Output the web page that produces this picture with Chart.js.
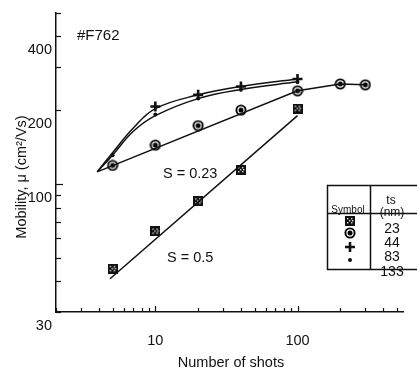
<!DOCTYPE html>
<html>
<head>
<meta charset="utf-8">
<script src="https://cdn.jsdelivr.net/npm/chart.js@4.4.1/dist/chart.umd.min.js"></script>
<style>
  html, body { margin: 0; padding: 0; background: #fff; }
  canvas { display: block; }
</style>
</head>
<body>
<canvas id="mobilityChart" width="417" height="372"></canvas>
<script>
// measured points, one list per film thickness (nm)
const shots23 = [5, 10, 20, 40, 100];
const mobility23 = [45, 64, 85, 114, 203];
const shots44 = [5, 10, 20, 40, 100, 200, 300];
const mobility44 = [119, 144, 173, 200, 240, 256, 254];
const shots83 = [10, 20, 40, 100];
const mobility83 = [207, 231, 250, 268];
const shots133 = [5, 10, 20, 40, 100];
const mobility133 = [131, 192, 223, 243, 261];

// guide lines drawn through the data
const fitShots05 = [4.8, 100];
const fitMobility05 = [41, 190];
const fitShots023 = [3.9, 100, 200, 300];
const fitMobility023 = [112, 240, 256, 254];
const curveShots83 = [3.9, 5, 7, 10, 20, 40, 100];
const curveMobility83 = [112, 134, 169, 203, 231, 250, 268];
const curveShots133 = [3.9, 5, 7, 10, 20, 40, 100];
const curveMobility133 = [112, 131, 164, 190, 223, 243, 261];

// axis ticks and which of them get a label
const xTicks = [2, 3, 4, 5, 6, 7, 8, 9, 10, 20, 30, 40, 50, 60, 70, 80, 90, 100, 200, 300, 400, 500];
const xLabels = [10, 100];
const yTicks = [30, 40, 50, 60, 70, 80, 90, 100, 200, 300, 400, 500];
const yLabels = [30, 100, 200, 400];

const legendThickness = ['23', '44', '83', '133'];

const FONT = '"Liberation Sans", Arial, Helvetica, sans-serif';
const INK = '#111';

const toPoints = (xs, ys) => xs.map((x, i) => ({ x, y: ys[i] }));

// speckled black square marker
function makeSquare() {
    const c = document.createElement('canvas');
    c.width = 10; c.height = 10;
    const g = c.getContext('2d');
    g.fillStyle = '#111';
    g.fillRect(0, 0, 10, 10);
    g.fillStyle = '#ddd';
    [[2, 2], [6, 2], [4, 4], [2, 6], [6, 6], [7, 4]].forEach(([px, py]) => g.fillRect(px, py, 1.4, 1.4));
    return c;
}

// ring with a filled centre
function makeBullseye() {
    const c = document.createElement('canvas');
    c.width = 12; c.height = 12;
    const g = c.getContext('2d');
    g.fillStyle = '#fff';
    g.strokeStyle = '#000';
    g.lineWidth = 1.9;
    g.beginPath(); g.arc(6, 6, 4.6, 0, Math.PI * 2); g.fill(); g.stroke();
    g.fillStyle = '#000';
    g.beginPath(); g.arc(6, 6, 2.5, 0, Math.PI * 2); g.fill();
    return c;
}

const squareImg = makeSquare();
const bullseyeImg = makeBullseye();

const lineSet = (xs, ys, smooth) => ({
    data: toPoints(xs, ys),
    showLine: true,
    borderColor: INK,
    borderWidth: 1.5,
    pointRadius: 0,
    tension: smooth ? 0.4 : 0
});

// tick marks point into the plot, plus the free text and the symbol table
const annotations = {
    id: 'annotations',
    afterDraw(chart) {
        const { ctx, chartArea: a, scales: { x, y } } = chart;
        ctx.save();
        ctx.strokeStyle = INK;
        ctx.lineWidth = 1.2;
        xTicks.forEach(v => {
            const px = Math.round(x.getPixelForValue(v)) + 0.5;
            const len = xLabels.includes(v) ? 6 : 4;
            ctx.beginPath(); ctx.moveTo(px, a.bottom); ctx.lineTo(px, a.bottom - len); ctx.stroke();
        });
        yTicks.forEach(v => {
            const py = Math.round(y.getPixelForValue(v)) + 0.5;
            const len = (v === 100) ? 7 : 5;
            ctx.beginPath(); ctx.moveTo(a.left, py); ctx.lineTo(a.left + len, py); ctx.stroke();
        });

        ctx.fillStyle = INK;
        ctx.textBaseline = 'middle';
        ctx.textAlign = 'left';
        ctx.font = '15px ' + FONT;
        ctx.fillText('#F762', 77, 36);
        ctx.font = '14.5px ' + FONT;
        ctx.fillText('S = 0.23', 163, 174);
        ctx.fillText('S = 0.5', 167, 258);

        ctx.textAlign = 'center';
        ctx.fillText('Number of shots', 231, 363);

        ctx.save();
        ctx.translate(22, 177);
        ctx.rotate(-Math.PI / 2);
        ctx.fillText('Mobility, \u03bc (cm\u00b2/Vs)', 0, 0);
        ctx.restore();

        // symbol table in the lower right corner
        ctx.lineWidth = 1.5;
        ctx.beginPath();
        ctx.moveTo(420, 185.5); ctx.lineTo(327.5, 185.5); ctx.lineTo(327.5, 269.5); ctx.lineTo(420, 269.5);
        ctx.moveTo(370.5, 185.5); ctx.lineTo(370.5, 269.5);
        ctx.moveTo(327.5, 213.5); ctx.lineTo(420, 213.5);
        ctx.stroke();

        ctx.font = '10px ' + FONT;
        ctx.fillText('Symbol', 348, 210);
        ctx.font = '12px ' + FONT;
        ctx.fillText('ts', 391, 201);
        ctx.fillText('(nm)', 392, 213);

        ctx.font = '14px ' + FONT;
        const rowY = [229, 243, 257, 272];
        legendThickness.forEach((t, i) => ctx.fillText(t, 392, rowY[i]));

        ctx.drawImage(squareImg, 345, 216);
        ctx.drawImage(bullseyeImg, 344, 227);
        ctx.lineWidth = 2.6;
        ctx.beginPath();
        ctx.moveTo(345, 247); ctx.lineTo(355, 247);
        ctx.moveTo(350, 242); ctx.lineTo(350, 252);
        ctx.stroke();
        ctx.beginPath(); ctx.arc(350, 260, 2, 0, Math.PI * 2); ctx.fill();
        ctx.restore();
    }
};

const tickFont = { family: FONT, size: 14.5 };

new Chart(document.getElementById('mobilityChart'), {
    type: 'scatter',
    data: {
        datasets: [
            lineSet(fitShots05, fitMobility05, false),
            lineSet(fitShots023, fitMobility023, false),
            lineSet(curveShots83, curveMobility83, true),
            lineSet(curveShots133, curveMobility133, true),
            {
                data: toPoints(shots23, mobility23),
                pointStyle: squareImg
            },
            {
                data: toPoints(shots44, mobility44),
                pointStyle: bullseyeImg
            },
            {
                data: toPoints(shots83, mobility83),
                pointStyle: 'cross',
                pointRadius: 5,
                borderColor: INK,
                pointBorderWidth: 2.6
            },
            {
                data: toPoints(shots133, mobility133),
                pointStyle: 'circle',
                pointRadius: 2,
                backgroundColor: INK,
                borderColor: INK,
                pointBorderWidth: 0
            }
        ]
    },
    options: {
        responsive: false,
        animation: false,
        devicePixelRatio: 1,
        layout: { padding: { top: 11, right: 0, left: 0, bottom: 0 } },
        plugins: { legend: { display: false }, tooltip: { enabled: false } },
        scales: {
            x: {
                type: 'logarithmic',
                min: 2,
                max: 553,
                afterBuildTicks: s => { s.ticks = xTicks.map(v => ({ value: v })); },
                afterFit: s => { s.height = 60; },
                ticks: {
                    autoSkip: false,
                    maxRotation: 0,
                    padding: 20,
                    color: INK,
                    font: tickFont,
                    callback: v => xLabels.includes(v) ? String(v) : ''
                },
                grid: { drawOnChartArea: false, drawTicks: false },
                border: { color: INK, width: 1.5 }
            },
            y: {
                type: 'logarithmic',
                min: 30,
                max: 500,
                afterBuildTicks: s => { s.ticks = yTicks.map(v => ({ value: v })); },
                afterFit: s => { s.width = 56; },
                ticks: {
                    autoSkip: false,
                    padding: 4,
                    labelOffset: 14,
                    color: INK,
                    font: tickFont,
                    callback: v => yLabels.includes(v) ? String(v) : ''
                },
                grid: { drawOnChartArea: false, drawTicks: false },
                border: { color: INK, width: 1.5 }
            }
        }
    },
    plugins: [annotations]
});
</script>
</body>
</html>
